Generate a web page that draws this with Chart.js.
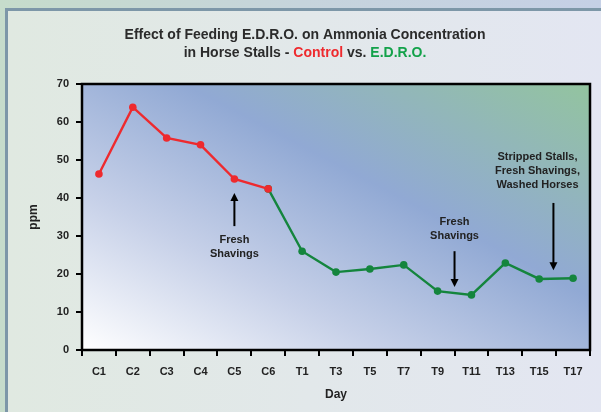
<!DOCTYPE html>
<html>
<head>
<meta charset="utf-8">
<script src="https://cdn.jsdelivr.net/npm/chart.js@4.4.1/dist/chart.umd.min.js"></script>
<style>
  html, body { margin:0; padding:0; }
  body {
    width:601px; height:412px; overflow:hidden; position:relative;
    background: linear-gradient(90deg, #c6dccb 0%, #c6d4dc 50%, #c5d0e6 100%);
  }
  #panel {
    position:absolute; left:5px; top:8px; width:600px; height:410px;
    border-left:3px solid #7d97a8; border-top:3px solid #7d97a8;
    background: linear-gradient(90deg, #e0e9e1 0%, #e2e8ea 50%, #e3e6f2 100%);
  }
  #wrap { position:absolute; left:0; top:0; width:601px; height:412px; }
</style>
</head>
<body>
<div id="panel"></div>
<div id="wrap"><canvas id="chart" width="601" height="412"></canvas></div>
<script>
// ---- data ----
const days = ["C1","C2","C3","C4","C5","C6","T1","T3","T5","T7","T9","T11","T13","T15","T17"];
const control = [46.3, 63.9, 55.8, 54.0, 45.0, 42.4, null, null, null, null, null, null, null, null, null];
const edro    = [null, null, null, null, null, 42.4, 26.0, 20.5, 21.3, 22.4, 15.5, 14.5, 22.9, 18.7, 18.9];
const yTicks = [0, 10, 20, 30, 40, 50, 60, 70];

// notes: x = category index, y = ppm value
const notes = [
  { lines: ["Fresh", "Shavings"], x: 4, ys: [28.9, 25.4], arrow: { x: 4, from: 32.6, to: 41.3 } },
  { lines: ["Fresh", "Shavings"], x: 10.5, ys: [33.7, 30.0], arrow: { x: 10.5, from: 26.0, to: 16.6 } },
  { lines: ["Stripped Stalls,", "Fresh Shavings,", "Washed Horses"], x: 12.95, ys: [50.8, 47.1, 43.4], arrow: { x: 13.42, from: 38.7, to: 21.0 } }
];

const RED = "#ee2a2e", GREEN = "#14853d", INK = "#222";
const FONT = "'Liberation Sans', Arial, sans-serif";

// plot area background + frame
const plotBg = {
  id: "plotBg",
  beforeDatasetsDraw(chart) {
    const { ctx, chartArea: a } = chart;
    const w = a.right - a.left, h = a.bottom - a.top;
    // isolines run corner to corner (top-left -> bottom-right)
    const k = 2 * w * h / (w * w + h * h);
    const g = ctx.createLinearGradient(a.left, a.bottom, a.left + h * k, a.bottom - w * k);
    g.addColorStop(0, "#ffffff");
    g.addColorStop(0.3, "#c6d0e8");
    g.addColorStop(0.6, "#91a9d4");
    g.addColorStop(1, "#93c49f");
    ctx.save();
    ctx.fillStyle = g;
    ctx.fillRect(a.left, a.top, w, h);
    ctx.restore();
  },
  afterDraw(chart) {
    const { ctx, chartArea: a } = chart;
    ctx.save();
    ctx.strokeStyle = "#000";
    ctx.lineWidth = 2.5;
    ctx.strokeRect(a.left, a.top, a.right - a.left, a.bottom - a.top);
    ctx.restore();
  }
};

// two-colour title
const titlePlug = {
  id: "titlePlug",
  afterDraw(chart) {
    const ctx = chart.ctx;
    const cx = 305;
    ctx.save();
    ctx.font = "bold 14px " + FONT;
    ctx.textBaseline = "middle";
    ctx.textAlign = "left";
    const l1 = "Effect of Feeding E.D.R.O. on Ammonia Concentration";
    ctx.fillStyle = "#2b2b2b";
    ctx.fillText(l1, cx - ctx.measureText(l1).width / 2, 35);
    const parts = [["in Horse Stalls - ", "#2b2b2b"], ["Control", RED], [" vs. ", "#2b2b2b"], ["E.D.R.O.", "#13a24a"]];
    const total = parts.reduce((s, p) => s + ctx.measureText(p[0]).width, 0);
    let x = cx - total / 2;
    for (const [t, c] of parts) {
      ctx.fillStyle = c;
      ctx.fillText(t, x, 53);
      x += ctx.measureText(t).width;
    }
    ctx.restore();
  }
};

// text notes and arrows
const notePlug = {
  id: "notePlug",
  afterDatasetsDraw(chart) {
    const { ctx, scales: { x: xs, y: ys } } = chart;
    ctx.save();
    ctx.font = "bold 11px " + FONT;
    ctx.textAlign = "center";
    ctx.textBaseline = "middle";
    for (const n of notes) {
      ctx.fillStyle = INK;
      const px = xs.getPixelForValue(n.x);
      n.lines.forEach((t, i) => ctx.fillText(t, px, ys.getPixelForValue(n.ys[i])));
      const ax = xs.getPixelForValue(n.arrow.x);
      const y0 = ys.getPixelForValue(n.arrow.from), y1 = ys.getPixelForValue(n.arrow.to);
      const dir = y1 > y0 ? 1 : -1;
      ctx.strokeStyle = "#000";
      ctx.lineWidth = 2;
      ctx.beginPath();
      ctx.moveTo(ax, y0);
      ctx.lineTo(ax, y1 - dir * 6);
      ctx.stroke();
      ctx.fillStyle = "#000";
      ctx.beginPath();
      ctx.moveTo(ax, y1);
      ctx.lineTo(ax - 4, y1 - dir * 8);
      ctx.lineTo(ax + 4, y1 - dir * 8);
      ctx.closePath();
      ctx.fill();
    }
    ctx.restore();
  }
};

const tickFont = { family: FONT, size: 11, weight: "bold" };

new Chart(document.getElementById("chart"), {
  type: "line",
  data: {
    labels: days,
    datasets: [
      { label: "Control", data: control, borderColor: RED, backgroundColor: RED,
        borderWidth: 2.4, pointRadius: 3.8, pointBorderWidth: 0, spanGaps: false },
      { label: "E.D.R.O.", data: edro, borderColor: GREEN, backgroundColor: GREEN,
        borderWidth: 2.4, pointRadius: 3.8, pointBorderWidth: 0, spanGaps: false }
    ]
  },
  options: {
    responsive: false,
    animation: false,
    layout: { padding: { top: 84, bottom: 6, left: 22, right: 11 } },
    plugins: { legend: { display: false }, title: { display: false }, tooltip: { enabled: false } },
    scales: {
      x: {
        offset: true,
        grid: { offset: true, drawOnChartArea: false, tickLength: 6, color: "#000", lineWidth: 2 },
        border: { color: "#000", width: 2 },
        ticks: { color: INK, font: tickFont, padding: 9, maxRotation: 0, autoSkip: false },
        title: { display: true, text: "Day", color: INK, font: { family: FONT, size: 12, weight: "bold" }, padding: { top: 4, bottom: 4 } },
        afterFit(s) { s.height = 56; }
      },
      y: {
        min: 0, max: 70,
        afterBuildTicks(s) { s.ticks = yTicks.map(v => ({ value: v })); },
        grid: { drawOnChartArea: false, tickLength: 6, color: "#000", lineWidth: 2 },
        border: { color: "#000", width: 2 },
        ticks: { color: INK, font: tickFont, padding: 7 },
        title: { display: true, text: "ppm", color: INK, font: { family: FONT, size: 12, weight: "bold" }, padding: { top: 4, bottom: 4 } },
        afterFit(s) { s.width = 60; }
      }
    }
  },
  plugins: [plotBg, titlePlug, notePlug]
});
</script>
</body>
</html>
